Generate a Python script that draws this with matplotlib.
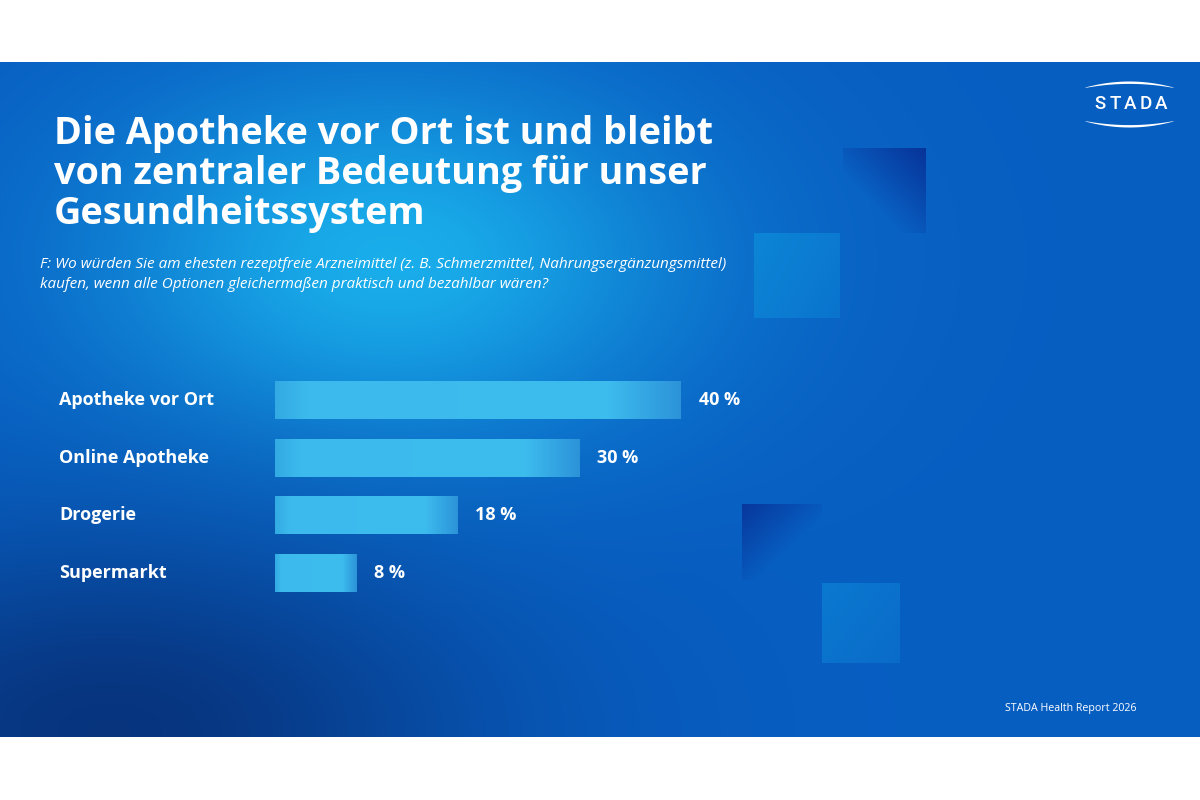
import numpy as np
import matplotlib.pyplot as plt
from matplotlib.colors import LinearSegmentedColormap

# data
categories = ['Apotheke vor Ort', 'Online Apotheke', 'Drogerie', 'Supermarkt']
shares = [40, 30, 18, 8]

title_lines = ['Die Apotheke vor Ort ist und bleibt',
               'von zentraler Bedeutung für unser',
               'Gesundheitssystem']
question_lines = ['F: Wo würden Sie am ehesten rezeptfreie Arzneimittel (z. B. Schmerzmittel, Nahrungsergänzungsmittel)',
                  'kaufen, wenn alle Optionen gleichermaßen praktisch und bezahlbar wären?']
source = 'STADA Health Report 2026'

plt.rcParams['font.family'] = ['Open Sans', 'DejaVu Sans']

fig = plt.figure(figsize=(12, 8), dpi=100)
fig.patch.set_facecolor('white')

# background panel (pixel coordinates, y from top)
bg = fig.add_axes([0, 0, 1, 1])
bg.set_xlim(0, 1200)
bg.set_ylim(800, 0)
bg.axis('off')

top, bottom = 62, 737
xx, yy = np.meshgrid(np.arange(1200) + 0.5, np.arange(top, bottom) + 0.5)
base = np.array([0.03, 0.37, 0.76])
glow = np.array([0.10, 0.68, 0.92])
navy = np.array([0.03, 0.19, 0.47])

g = np.exp(-(((xx - 390) / 290) ** 2 + ((yy - 260) / 180) ** 2))[..., None]
img = base * (1 - g) + glow * g
n = (0.92 * np.exp(-(((xx - 110) / 360) ** 2 + ((yy - 730) / 190) ** 2)))[..., None]
img = img * (1 - n) + navy * n


def square(img, x0, y0, x1, y1, col, mode):
    m = (xx >= x0) & (xx < x1) & (yy >= y0) & (yy < y1)
    u = (xx - x0) / (x1 - x0)
    v = (yy - y0) / (y1 - y0)
    if mode == 'tr':
        a = np.clip(u + (1 - v) - 0.7, 0, 1.3) / 1.3
    elif mode == 'tl':
        a = np.clip((1 - u) + (1 - v) - 0.8, 0, 1.2) / 1.3
    else:
        a = 0.35 + 0.3 * (1 - v) * 0.5 + 0.2 * (1 - u)
    a = np.where(m, a, 0)[..., None]
    return img * (1 - a) + np.array(col) * a


img = square(img, 843, 148, 926, 233, [0.03, 0.20, 0.60], 'tr')
img = square(img, 754, 233, 840, 318, [0.05, 0.56, 0.86], 'flat')
img = square(img, 742, 504, 822, 580, [0.03, 0.20, 0.60], 'tl')
img = square(img, 822, 583, 900, 663, [0.05, 0.52, 0.84], 'flat')

bg.imshow(np.clip(img, 0, 1), extent=(0, 1200, bottom, top), aspect='auto',
          interpolation='bilinear', zorder=0)

# titles
for i, line in enumerate(title_lines):
    bg.text(54, 134 + 40 * i, line, color='white', fontsize=27.2, fontweight='bold',
            va='center', ha='left')
for i, line in enumerate(question_lines):
    bg.text(40, 265 + 19 * i, line, color='white', fontsize=11, style='italic',
            va='center', ha='left')

bg.text(1005, 708, source, color='white', fontsize=7.7, va='center', ha='left')

# logo
for cx, ch in zip([1100, 1115, 1130, 1146, 1161], 'STADA'):
    bg.text(cx, 104, ch, color='white', fontsize=13.5, ha='center', va='center',
            family=['Roboto', 'DejaVu Sans'], fontweight='medium')
t = np.linspace(-1, 1, 80)
lx = 1129 + 44 * t
bg.fill_between(lx, 87 - 6 * (1 - t ** 2), 87 - 4 * (1 - t ** 2) + 0.4,
                color='white', lw=0)
bg.fill_between(lx, 121 + 6 * (1 - t ** 2), 121 + 4 * (1 - t ** 2) - 0.4,
                color='white', lw=0)

# bar chart
ax = fig.add_axes([275 / 1200, 1 - 601.8 / 800, 507.5 / 1200, 230.6 / 800])
ax.patch.set_alpha(0)
ax.set_xlim(0, 50)
ax.set_ylim(3.5, -0.5)
ax.axis('off')

ypos = np.arange(len(categories))
bars = ax.barh(ypos, shares, height=0.66, color='#3BB8EC', lw=0)

bar_cmap = LinearSegmentedColormap.from_list(
    'bar', [(0, '#33AAE3'), (0.08, '#3CBAED'), (0.82, '#3DBCEE'), (1, '#2C93D9')])
grad = np.linspace(0, 1, 256)[None, :]
for b in bars:
    x0, y0 = b.get_x(), b.get_y()
    im = ax.imshow(grad, cmap=bar_cmap, extent=(x0, x0 + b.get_width(), y0 + b.get_height(), y0),
                   aspect='auto', interpolation='bilinear', zorder=2)
    im.set_clip_path(b)

for i, (cat, v) in enumerate(zip(categories, shares)):
    ax.text((59 - 275) / 507.5, i, cat, transform=ax.get_yaxis_transform(),
            color='white', fontsize=13, fontweight='bold', ha='left', va='center')
    ax.text(v + 1.75, i, f'{v} %', color='white', fontsize=13, fontweight='bold',
            ha='left', va='center')

ax.set_xlim(0, 50)
ax.set_ylim(3.5, -0.5)

fig.savefig('out.png', dpi=100, facecolor='white')
